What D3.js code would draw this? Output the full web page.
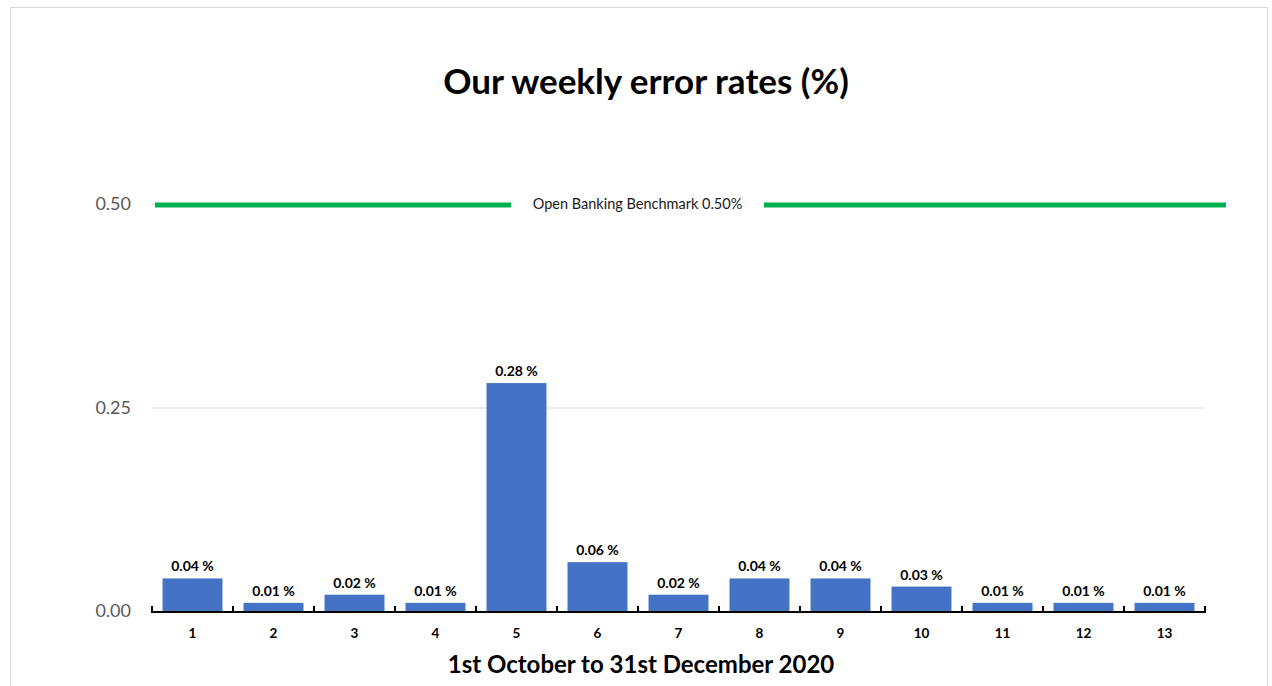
<!DOCTYPE html>
<html>
<head>
<meta charset="utf-8">
<script src="https://cdn.jsdelivr.net/npm/d3@7"></script>
<style>
  body { margin: 0; background: #fff; }
  svg { display: block; font-family: Lato, "Open Sans", sans-serif; }
</style>
</head>
<body>
<svg id="chart" width="1272" height="686"></svg>
<script>
// chart data
var weeks = ["1", "2", "3", "4", "5", "6", "7", "8", "9", "10", "11", "12", "13"]
var errorRates = [0.04, 0.01, 0.02, 0.01, 0.28, 0.06, 0.02, 0.04, 0.04, 0.03, 0.01, 0.01, 0.01]
var yTicks = [0, 0.25, 0.5]
var benchmark = 0.5
var benchmarkLabel = "Open Banking Benchmark 0.50%"
var title = "Our weekly error rates (%)"
var xTitle = "1st October to 31st December 2020"

var svg = d3.select("#chart")
var plotLeft = 152, plotRight = 1205, plotTop = 204, plotBottom = 611

// outer frame
svg.append("rect")
    .attr("x", 10.5).attr("y", 7.5)
    .attr("width", 1257).attr("height", 700)
    .attr("fill", "none")
    .attr("stroke", "#d9d9d9")

var x = d3.scaleBand()
    .domain(weeks)
    .range([plotLeft, plotRight])
    .paddingInner(0.26)
    .paddingOuter(0.13)

var y = d3.scaleLinear()
    .domain([0, 0.5])
    .range([plotBottom, plotTop])

// gridlines
svg.append("g")
    .selectAll("line")
    .data(yTicks.filter(function(d){ return d > 0 }))
    .enter()
        .append("line")
        .attr("x1", plotLeft).attr("x2", plotRight)
        .attr("y1", function(d){ return y(d) + 0.5 })
        .attr("y2", function(d){ return y(d) + 0.5 })
        .attr("stroke", "#d9d9d9")
        .attr("stroke-width", 1)

// y tick labels
svg.append("g")
    .selectAll("text")
    .data(yTicks)
    .enter()
        .append("text")
        .attr("x", 131)
        .attr("y", function(d){ return y(d) })
        .attr("dy", "0.35em")
        .attr("text-anchor", "end")
        .attr("fill", "#595959")
        .style("font-size", "18px")
        .text(function(d){ return d3.format(".2f")(d) })

// bars
svg.append("g")
    .selectAll("rect")
    .data(errorRates)
    .enter()
        .append("rect")
        .attr("x", function(d, i){ return x(weeks[i]) })
        .attr("y", function(d){ return y(d) })
        .attr("width", x.bandwidth())
        .attr("height", function(d){ return plotBottom - y(d) })
        .attr("fill", "#4472C4")

// bar labels
svg.append("g")
    .selectAll("text")
    .data(errorRates)
    .enter()
        .append("text")
        .attr("x", function(d, i){ return x(weeks[i]) + x.bandwidth() / 2 })
        .attr("y", function(d){ return y(d) - 7 })
        .attr("text-anchor", "middle")
        .attr("fill", "#000")
        .style("font-size", "14px")
        .style("font-weight", "bold")
        .text(function(d){ return d3.format(".2f")(d) + " %" })

// x axis
var xAxis = svg.append("g")
xAxis.append("line")
    .attr("x1", plotLeft - 1).attr("x2", plotRight + 1)
    .attr("y1", plotBottom + 1).attr("y2", plotBottom + 1)
    .attr("stroke", "#000")
    .attr("stroke-width", 2)

var boundaries = d3.range(weeks.length + 1).map(function(i){ return plotLeft + i * x.step() })
xAxis.selectAll(".tick")
    .data(boundaries)
    .enter()
        .append("line")
        .attr("x1", function(d){ return d }).attr("x2", function(d){ return d })
        .attr("y1", plotBottom - 5).attr("y2", plotBottom + 2)
        .attr("stroke", "#000")
        .attr("stroke-width", 2)

xAxis.selectAll("text")
    .data(weeks)
    .enter()
        .append("text")
        .attr("x", function(d){ return x(d) + x.bandwidth() / 2 })
        .attr("y", 638)
        .attr("text-anchor", "middle")
        .style("font-size", "13.5px")
        .style("font-weight", "bold")
        .text(function(d){ return d })

// benchmark line
var labelGap = [511, 764]
svg.append("rect")
    .attr("x", labelGap[0]).attr("y", y(benchmark) - 8)
    .attr("width", labelGap[1] - labelGap[0]).attr("height", 16)
    .attr("fill", "#fff")
svg.append("line")
    .attr("x1", 155).attr("x2", labelGap[0])
    .attr("y1", y(benchmark) + 1).attr("y2", y(benchmark) + 1)
    .attr("stroke", "#00B050")
    .attr("stroke-width", 5)
svg.append("line")
    .attr("x1", labelGap[1]).attr("x2", 1226)
    .attr("y1", y(benchmark) + 1).attr("y2", y(benchmark) + 1)
    .attr("stroke", "#00B050")
    .attr("stroke-width", 5)
svg.append("text")
    .attr("x", (labelGap[0] + labelGap[1]) / 2)
    .attr("y", y(benchmark))
    .attr("dy", "0.35em")
    .attr("text-anchor", "middle")
    .attr("fill", "#1a1a1a")
    .style("font-size", "14.5px")
    .text(benchmarkLabel)

// titles
svg.append("text")
    .attr("x", 646).attr("y", 94)
    .attr("text-anchor", "middle")
    .style("font-size", "35px")
    .style("font-weight", "bold")
    .text(title)

svg.append("text")
    .attr("x", 641).attr("y", 673)
    .attr("text-anchor", "middle")
    .style("font-size", "24px")
    .style("font-weight", "bold")
    .text(xTitle)
</script>
</body>
</html>
